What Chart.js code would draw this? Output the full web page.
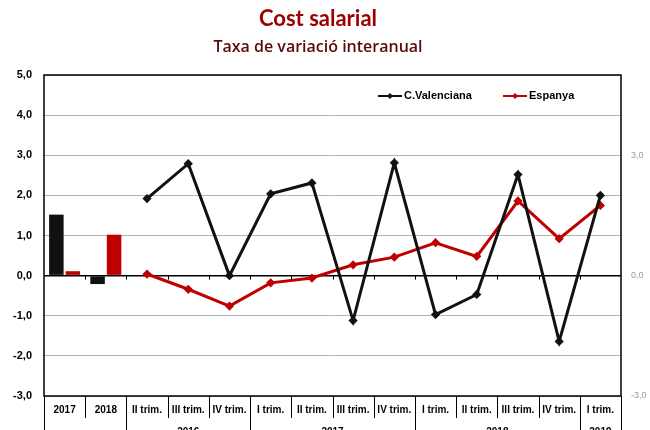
<!DOCTYPE html>
<html>
<head>
<meta charset="utf-8">
<script src="https://cdn.jsdelivr.net/npm/chart.js@4"></script>
<style>
  body { margin: 0; background: #fff; }
  #wrap { width: 650px; height: 430px; position: relative; }
</style>
</head>
<body>
<div id="wrap"><canvas id="chart"></canvas></div>
<script>
const categories = ['2017', '2018', 'II trim.', 'III trim.', 'IV trim.', 'I trim.', 'II trim.', 'III trim.', 'IV trim.', 'I trim.', 'II trim.', 'III trim.', 'IV trim.', 'I trim.'];
const groupLabels = ['', '2016', '2017', '2018', '2019'];
const groupSizes = [2, 3, 4, 4, 1];

const annualCV = [1.52, -0.21];
const annualES = [0.11, 1.02];
const quarterCV = [1.92, 2.79, 0.0, 2.04, 2.31, -1.12, 2.81, -0.97, -0.47, 2.52, -1.64, 2.0];
const quarterES = [0.04, -0.34, -0.76, -0.18, -0.06, 0.27, 0.46, 0.82, 0.48, 1.86, 0.92, 1.75];

const leftTicks = [-3, -2, -1, 0, 1, 2, 3, 4, 5];
const rightTicks = [-3, 0, 3];

const black = '#111111';
const red = '#c00000';
const labelFont = 'bold 10px "Liberation Sans Narrow", "Liberation Sans", Arial, sans-serif';

const nQ = quarterCV.length;
const pad = (arr, before, after) => [...Array(before).fill(null), ...arr, ...Array(after).fill(null)];
const fmt = (v) => v.toFixed(1).replace('.', ',');

const frame = {
  id: 'frame',
  afterDraw(chart) {
    const { ctx, chartArea: a, scales } = chart;
    const x = scales.x;
    const y0 = scales.y.getPixelForValue(0);
    const n = categories.length;
    const edge = (i) => {
      if (i <= 0) return a.left;
      if (i >= n) return a.right;
      return (x.getPixelForValue(i - 1) + x.getPixelForValue(i)) / 2;
    };
    ctx.save();
    ctx.strokeStyle = '#000';

    // plot box
    ctx.lineWidth = 1.5;
    ctx.strokeRect(a.left, a.top, a.right - a.left, a.bottom - a.top);

    // little ticks on the zero line
    ctx.lineWidth = 1;
    for (let i = 1; i < n; i++) {
      const px = Math.round(edge(i)) + 0.5;
      ctx.beginPath();
      ctx.moveTo(px, y0);
      ctx.lineTo(px, y0 + 4);
      ctx.stroke();
    }

    // category row
    ctx.fillStyle = '#000';
    ctx.font = labelFont;
    ctx.textAlign = 'center';
    ctx.textBaseline = 'middle';
    for (let i = 0; i < n; i++) {
      ctx.fillText(categories[i], x.getPixelForValue(i), a.bottom + 14);
      if (i > 0) {
        const px = Math.round(edge(i)) + 0.5;
        ctx.beginPath();
        ctx.moveTo(px, a.bottom);
        ctx.lineTo(px, a.bottom + 22);
        ctx.stroke();
      }
    }

    // year groups
    let start = 0;
    const drawSep = (i) => {
      const px = Math.round(edge(i)) + 0.5;
      ctx.beginPath();
      ctx.moveTo(px, a.bottom);
      ctx.lineTo(px, chart.height);
      ctx.stroke();
    };
    drawSep(0);
    groupSizes.forEach((size, g) => {
      const end = start + size;
      drawSep(end);
      if (groupLabels[g]) {
        ctx.fillText(groupLabels[g], (edge(start) + edge(end)) / 2, a.bottom + 36);
      }
      start = end;
    });

    // titles
    ctx.textAlign = 'center';
    ctx.fillStyle = '#9e0000';
    ctx.font = 'bold 22px Lato, "Liberation Sans", sans-serif';
    ctx.fillText('Cost salarial', 318, 19);
    ctx.fillStyle = '#5a0a0a';
    ctx.font = '600 16px "Open Sans", "Liberation Sans", sans-serif';
    ctx.fillText('Taxa de variació interanual', 318, 47);

    // legend
    const items = [
      { label: 'C.Valenciana', color: black, x0: 378 },
      { label: 'Espanya', color: red, x0: 503 },
    ];
    ctx.textAlign = 'left';
    ctx.font = 'bold 11px "Liberation Sans Narrow", "Liberation Sans", Arial, sans-serif';
    items.forEach((it) => {
      const ly = 96;
      ctx.strokeStyle = it.color;
      ctx.fillStyle = it.color;
      ctx.lineWidth = 2;
      ctx.beginPath();
      ctx.moveTo(it.x0, ly);
      ctx.lineTo(it.x0 + 24, ly);
      ctx.stroke();
      const cx = it.x0 + 12;
      ctx.beginPath();
      ctx.moveTo(cx, ly - 3);
      ctx.lineTo(cx + 3, ly);
      ctx.lineTo(cx, ly + 3);
      ctx.lineTo(cx - 3, ly);
      ctx.closePath();
      ctx.fill();
      ctx.fillStyle = '#000';
      ctx.fillText(it.label, it.x0 + 26, ly);
    });
    ctx.restore();
  },
};

new Chart(document.getElementById('chart'), {
  data: {
    labels: categories,
    datasets: [
      {
        type: 'bar',
        label: 'C.Valenciana',
        data: pad(annualCV, 0, nQ),
        backgroundColor: black,
        categoryPercentage: 0.8,
        barPercentage: 0.88,
        order: 2,
      },
      {
        type: 'bar',
        label: 'Espanya',
        data: pad(annualES, 0, nQ),
        backgroundColor: red,
        categoryPercentage: 0.8,
        barPercentage: 0.88,
        order: 2,
      },
      {
        type: 'line',
        label: 'C.Valenciana',
        data: pad(quarterCV, 2, 0),
        borderColor: black,
        backgroundColor: black,
        borderWidth: 3,
        pointStyle: 'rectRot',
        pointRadius: 2.5,
        tension: 0,
        order: 0,
      },
      {
        type: 'line',
        label: 'Espanya',
        data: pad(quarterES, 2, 0),
        borderColor: red,
        backgroundColor: red,
        borderWidth: 3,
        pointStyle: 'rectRot',
        pointRadius: 2.5,
        tension: 0,
        order: 1,
      },
    ],
  },
  options: {
    responsive: true,
    maintainAspectRatio: false,
    animation: false,
    layout: { padding: { top: 75, left: 0, right: 0, bottom: 0 } },
    plugins: {
      legend: { display: false },
      tooltip: { enabled: false },
    },
    scales: {
      x: {
        offset: true,
        grid: { display: false },
        border: { display: false },
        ticks: { display: false },
        afterFit(scale) { scale.height = 34; },
      },
      y: {
        position: 'left',
        min: -3,
        max: 5,
        afterBuildTicks(scale) { scale.ticks = leftTicks.map((v) => ({ value: v })); },
        afterFit(scale) { scale.width = 44; },
        grid: {
          color: (c) => (c.tick && c.tick.value === 0 ? '#000' : '#b4b4b4'),
          lineWidth: (c) => (c.tick && c.tick.value === 0 ? 1.5 : 1),
          drawTicks: false,
        },
        border: { display: false },
        ticks: {
          color: '#000',
          padding: 12,
          font: { family: '"Liberation Sans", Arial, sans-serif', size: 11, weight: 'bold' },
          callback: (v) => fmt(v),
        },
      },
      y2: {
        position: 'right',
        min: -3,
        max: 5,
        afterBuildTicks(scale) { scale.ticks = rightTicks.map((v) => ({ value: v })); },
        afterFit(scale) { scale.width = 29; },
        grid: { display: false, drawTicks: false },
        border: { display: false },
        ticks: {
          color: '#9a9a9a',
          padding: 10,
          font: { family: '"Liberation Sans", Arial, sans-serif', size: 9 },
          callback: (v) => fmt(v),
        },
      },
    },
  },
  plugins: [frame],
});
</script>
</body>
</html>
